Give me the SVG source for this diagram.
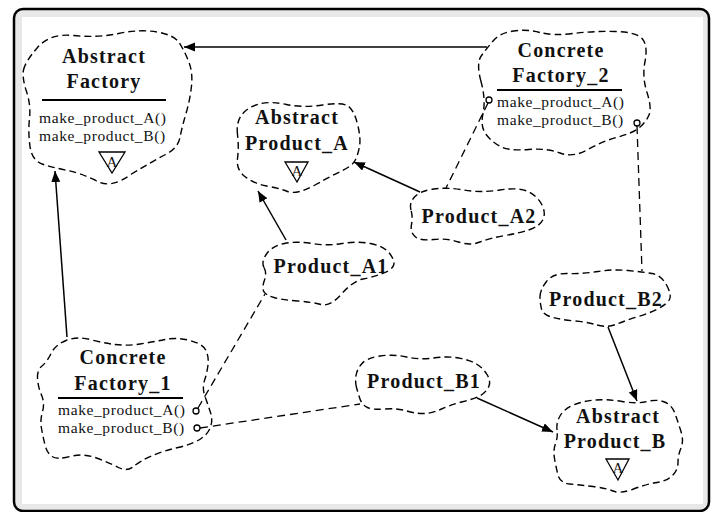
<svg xmlns="http://www.w3.org/2000/svg" width="715" height="512" viewBox="0 0 715 512">
  <style>
    .cloud { fill: none; stroke: #000; stroke-width: 1.4; stroke-dasharray: 7 4; }
    .title { font-family: "Liberation Serif", "Times New Roman", serif; font-size: 20px; font-weight: bold; letter-spacing: 1.2px; fill: #111; text-anchor: middle; }
    .op { font-family: "Liberation Serif", "Times New Roman", serif; font-size: 15.5px; letter-spacing: 0.6px; fill: #111; }
    .abs { font-family: "Liberation Serif", "Times New Roman", serif; font-size: 15px; fill: #111; text-anchor: middle; }
    .rule { stroke: #000; stroke-width: 2; }
    .tri { fill: #fff; stroke: #000; stroke-width: 1.3; }
    .inherit { stroke: #000; stroke-width: 1.5; fill: none; marker-end: url(#head); }
    .uses { stroke: #000; stroke-width: 1.3; fill: none; stroke-dasharray: 8 5; }
    .port { fill: #fff; stroke: #000; stroke-width: 1.3; }
  </style>
  <defs>
    <marker id="head" markerWidth="12" markerHeight="10" refX="11" refY="4.5" orient="auto" markerUnits="userSpaceOnUse">
      <path d="M0,0 L11,4.5 L0,9 Z" fill="#000"/>
    </marker>
  </defs>

  <!-- frame -->
  <rect x="14" y="9" width="695" height="502" rx="9" ry="9" fill="#e8e8e8" stroke="#000" stroke-width="2.5"/>
  <rect x="22" y="17" width="681" height="487" fill="#fff"/>

  <!-- connectors -->
  <g id="connectors">
    <line class="inherit" x1="487" y1="47" x2="184" y2="47"/>
    <line class="inherit" x1="420" y1="192" x2="354" y2="162"/>
    <line class="inherit" x1="286" y1="240" x2="258" y2="191"/>
    <line class="inherit" x1="67" y1="337" x2="55" y2="171"/>
    <line class="inherit" x1="608" y1="327" x2="637" y2="401"/>
    <line class="inherit" x1="477" y1="398" x2="553" y2="432"/>
    <line class="uses" x1="488" y1="103" x2="446" y2="188"/>
    <line class="uses" x1="637" y1="126" x2="642" y2="271"/>
    <line class="uses" x1="198" y1="408" x2="265" y2="294"/>
    <line class="uses" x1="200" y1="428" x2="360" y2="404"/>
  </g>

  <g id="abstract-factory">
    <path class="cloud" d="M23.5,70 Q25,62 37.5,47.5 Q50,33 73.5,35.5 Q97,38 118.5,33.5 Q140,29 157,32 Q174,35 179,42.5 Q184,50 188.5,61 Q193,72 191.5,86 Q190,100 186,113.5 Q182,127 180,137.5 Q178,148 165.5,154.5 Q153,161 131.5,174 Q110,190 95,180 Q80,173 67.5,170.5 Q55,168 43.5,164.5 Q32,161 30,146.5 Q28,132 29.5,118.5 Q31,105 26.5,91.5 Q22,78 23.5,70 Z"/>
    <text class="title" x="104" y="63">Abstract</text>
    <text class="title" x="104" y="88">Factory</text>
    <line class="rule" x1="42" y1="100" x2="166" y2="100"/>
    <text class="op" x="39" y="123">make_product_A()</text>
    <text class="op" x="39" y="141">make_product_B()</text>
    <polygon class="tri" points="99,152 125,152 112,173"/>
    <text class="abs" x="112" y="167">A</text>
  </g>

  <g id="abstract-product-a">
    <path class="cloud" d="M237.5,134.5 Q236,122 242,114.5 Q248,107 259,104 Q270,101 286.5,104.5 Q303,108 322.5,105 Q342,102 348,106 Q354,110 357.5,124 Q361,138 359.5,146.5 Q358,155 355,160.5 Q352,166 342.5,170.5 Q333,175 315,185 Q297,195 287.5,191.5 Q278,188 266.5,186 Q255,184 245.5,177 Q236,170 237.5,158.5 Q239,147 237.5,134.5 Z"/>
    <text class="title" x="297" y="124">Abstract</text>
    <text class="title" x="297" y="150">Product_A</text>
    <polygon class="tri" points="285,162 308,162 297,182"/>
    <text class="abs" x="297" y="176">A</text>
  </g>

  <g id="concrete-factory-2">
    <path class="cloud" d="M481,81.5 Q476,63 481.5,55.5 Q487,48 493.5,40.5 Q500,33 513.5,31 Q527,29 540,32.5 Q553,36 573,33.5 Q593,31 615,31.5 Q637,32 642.5,39 Q648,46 645,61.5 Q642,77 647,92.5 Q652,108 649,115 Q646,122 639.5,127.5 Q633,133 618,137 Q603,141 588,149.5 Q573,158 560,153 Q547,148 528.5,149.5 Q510,151 501.5,147 Q493,143 486.5,135 Q480,127 483,113.5 Q486,100 481,81.5 Z"/>
    <text class="title" x="561" y="57">Concrete</text>
    <text class="title" x="561" y="82">Factory_2</text>
    <line class="rule" x1="497" y1="90" x2="622" y2="90"/>
    <text class="op" x="497" y="107">make_product_A()</text>
    <text class="op" x="497" y="125">make_product_B()</text>
    <circle class="port" cx="489" cy="100" r="3"/>
    <circle class="port" cx="637" cy="123" r="3"/>
  </g>

  <g id="product-a2">
    <path class="cloud" d="M411,210 Q409,203 414.5,197 Q420,191 433.5,189 Q447,187 463.5,190 Q480,193 500,190 Q520,187 529,192 Q538,197 542,205 Q546,213 543,219.5 Q540,226 530,229.5 Q520,233 505,235.5 Q490,238 480,242 Q470,246 458.5,242 Q447,238 433.5,239.5 Q420,241 415,236.5 Q410,232 411.5,224.5 Q413,217 411,210 Z"/>
    <text class="title" x="479" y="223">Product_A2</text>
  </g>

  <g id="product-a1">
    <path class="cloud" d="M264,267.5 Q261,262 266.5,254 Q272,246 284.5,243.5 Q297,241 312,243.5 Q327,246 342,243.5 Q357,241 370.5,243.5 Q384,246 390,254 Q396,262 393,266.5 Q390,271 381.5,274 Q373,277 363,279 Q353,281 341.5,294 Q330,307 321,304.5 Q312,302 297.5,301 Q283,300 274,297.5 Q265,295 263.5,291 Q262,287 264.5,280 Q267,273 264,267.5 Z"/>
    <text class="title" x="331" y="273">Product_A1</text>
  </g>

  <g id="product-b2">
    <path class="cloud" d="M540,296.5 Q540,290 546.5,281.5 Q553,273 568,273.5 Q583,274 598,271.5 Q613,269 628,270.5 Q643,272 652,273.5 Q661,275 666.5,285 Q672,295 669.5,299.5 Q667,304 658.5,308.5 Q650,313 638.5,316.5 Q627,320 617,324 Q607,328 597,325 Q587,322 575,321 Q563,320 553,317.5 Q543,315 541.5,309 Q540,303 540,296.5 Z"/>
    <text class="title" x="606" y="306">Product_B2</text>
  </g>

  <g id="product-b1">
    <path class="cloud" d="M356.5,387.5 Q355,382 356,375.5 Q357,369 362,363.5 Q367,358 380,356 Q393,354 406.5,357 Q420,360 433.5,358 Q447,356 458.5,358 Q470,360 476.5,364 Q483,368 487,374.5 Q491,381 489,386 Q487,391 482,394.5 Q477,398 463.5,401.5 Q450,405 441.5,409 Q433,413 425,413.5 Q417,414 407,411 Q397,408 385,409 Q373,410 367.5,407.5 Q362,405 360,399 Q358,393 356.5,387.5 Z"/>
    <text class="title" x="424" y="388">Product_B1</text>
  </g>

  <g id="abstract-product-b">
    <path class="cloud" d="M557,430 Q556,423 560,416 Q564,409 573.5,405 Q583,401 595,400 Q607,399 622,401.5 Q637,404 647,401.5 Q657,399 664.5,402 Q672,405 675,413.5 Q678,422 681,431.5 Q684,441 681,448 Q678,455 678,462.5 Q678,470 672.5,475.5 Q667,481 657,482.5 Q647,484 633.5,489 Q620,494 613,491 Q606,488 593,486.5 Q580,485 570,484 Q560,483 558,475 Q556,467 554.5,458.5 Q553,450 555.5,443.5 Q558,437 557,430 Z"/>
    <text class="title" x="618" y="423">Abstract</text>
    <text class="title" x="615" y="448">Product_B</text>
    <polygon class="tri" points="606,459 629,459 618,480"/>
    <text class="abs" x="618" y="473">A</text>
  </g>

  <g id="concrete-factory-1">
    <path class="cloud" d="M37.5,378.5 Q37,370 42,366 Q47,362 51,353.5 Q55,345 66,340.5 Q77,336 90,339.5 Q103,343 115,344.5 Q127,346 140,344 Q153,342 165,339.5 Q177,337 190,340.5 Q203,344 206,350.5 Q209,357 208,365 Q207,373 204.5,380.5 Q202,388 205,396.5 Q208,405 210.5,412.5 Q213,420 210.5,427 Q208,434 200.5,439 Q193,444 178,447.5 Q163,451 151.5,456 Q140,461 133.5,466.5 Q127,472 118.5,467.5 Q110,463 96.5,458 Q83,453 70,456.5 Q57,460 52,456.5 Q47,453 45,445 Q43,437 41.5,428.5 Q40,420 42.5,411.5 Q45,403 41.5,395 Q38,387 37.5,378.5 Z"/>
    <text class="title" x="123" y="364">Concrete</text>
    <text class="title" x="123" y="390">Factory_1</text>
    <line class="rule" x1="58" y1="398" x2="183" y2="398"/>
    <text class="op" x="58" y="415">make_product_A()</text>
    <text class="op" x="58" y="433">make_product_B()</text>
    <circle class="port" cx="196" cy="411" r="3"/>
    <circle class="port" cx="197" cy="428" r="3"/>
  </g>
</svg>
